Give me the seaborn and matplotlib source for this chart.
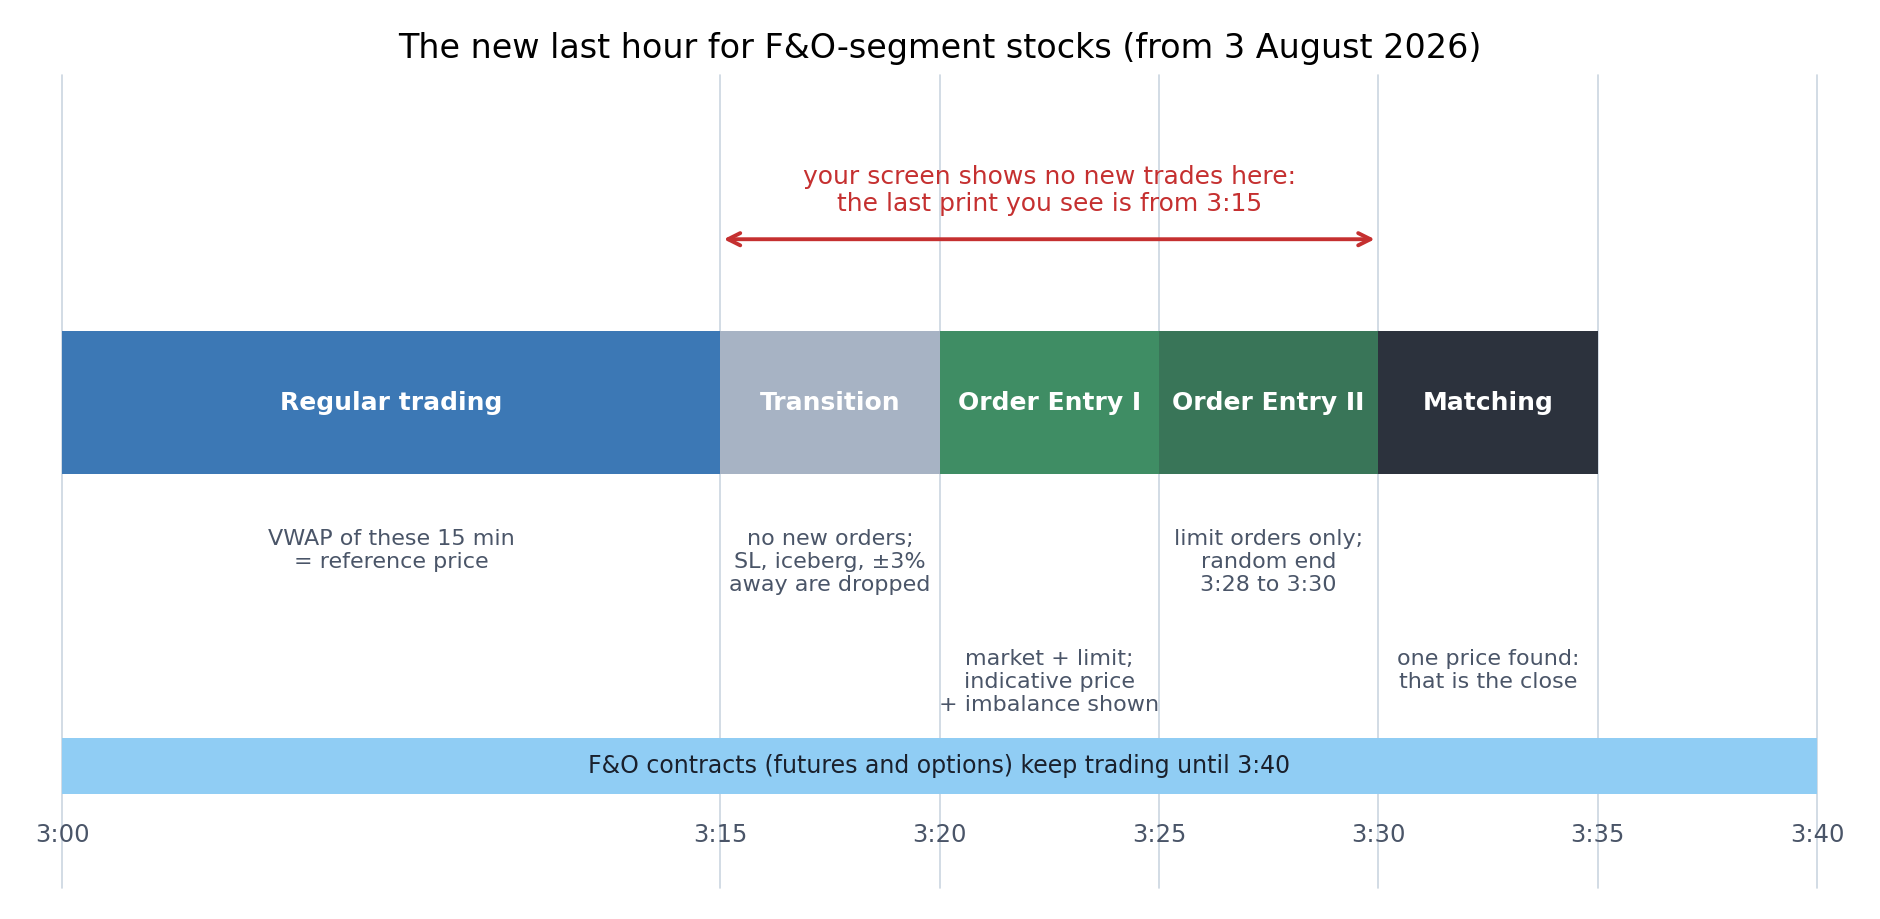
import matplotlib
matplotlib.use("Agg")
import matplotlib.pyplot as plt
import seaborn as sns

# phases of the closing session, minutes after 3:00
phases = ["Regular trading", "Transition", "Order Entry I", "Order Entry II", "Matching"]
phase_start = [0, 15, 20, 25, 30]
phase_len = [15, 5, 5, 5, 5]
phase_colors = ["#3c78b5", "#a7b3c4", "#3f8d64", "#397558", "#2c323d"]

notes = [
    "VWAP of these 15 min\n= reference price",
    "no new orders;\nSL, iceberg, \u00b13%\naway are dropped",
    "market + limit;\nindicative price\n+ imbalance shown",
    "limit orders only;\nrandom end\n3:28 to 3:30",
    "one price found:\nthat is the close",
]
note_row = [0, 0, 1, 0, 1]

tick_min = [0, 15, 20, 25, 30, 35, 40]
tick_labels = ["3:00", "3:15", "3:20", "3:25", "3:30", "3:35", "3:40"]

fo_end = 40
blind_from, blind_to = 15, 30

sns.set_theme(style="white")
plt.rcParams["font.family"] = ["DejaVu Sans"]

fig = plt.figure(figsize=(18.8, 9.19), dpi=100)
ax = fig.add_axes([0.033, 0.0337, 0.9335, 0.8847])
ax.set_xlim(0, 40)
ax.set_ylim(0, 1)

# vertical guides
ax.set_xticks(tick_min)
ax.set_yticks([])
ax.grid(axis="x", color="#cbd5e0", linewidth=1.2)
ax.tick_params(axis="x", length=0, labelbottom=False)
for gl in ax.get_xgridlines():
    gl.set_clip_on(False)
for s in ax.spines.values():
    s.set_visible(False)

# main phase bar
ax.barh(0.597, phase_len, left=phase_start, height=0.176,
        color=phase_colors, edgecolor="none", zorder=3)
for name, st, ln in zip(phases, phase_start, phase_len):
    ax.text(st + ln / 2, 0.597, name, ha="center", va="center",
            color="white", fontsize=18, fontweight="bold", zorder=4)

# notes under each phase
row_y = [0.4415, 0.294]
for txt, st, ln, r in zip(notes, phase_start, phase_len, note_row):
    ax.text(st + ln / 2, row_y[r], txt, ha="center", va="top",
            color="#4a5568", fontsize=16, linespacing=1.2, zorder=4)

# F&O bar
ax.barh(0.15, fo_end, left=0, height=0.069, color="#90cdf4",
        edgecolor="none", zorder=3)
ax.text(fo_end / 2, 0.15, "F&O contracts (futures and options) keep trading until 3:40",
        ha="center", va="center", color="#1a202c", fontsize=17, zorder=4)

# tick labels drawn inside the axes
for m, lab in zip(tick_min, tick_labels):
    ax.text(m, 0.065, lab, ha="center", va="center", color="#4a5568",
            fontsize=17.5, zorder=4)

# blind window arrow
ax.annotate("", xy=(blind_to - 0.08, 0.798), xytext=(blind_from + 0.08, 0.798),
            arrowprops=dict(arrowstyle="<->", color="#c53030", lw=2.8,
                            mutation_scale=22, shrinkA=0, shrinkB=0), zorder=4)
ax.text((blind_from + blind_to) / 2, 0.858,
        "your screen shows no new trades here:\nthe last print you see is from 3:15",
        ha="center", va="center", color="#c53030", fontsize=18, linespacing=1.13)

fig.suptitle("The new last hour for F&O-segment stocks (from 3 August 2026)",
             y=0.965, fontsize=24, color="black")

fig.savefig("out.png", dpi=100)
